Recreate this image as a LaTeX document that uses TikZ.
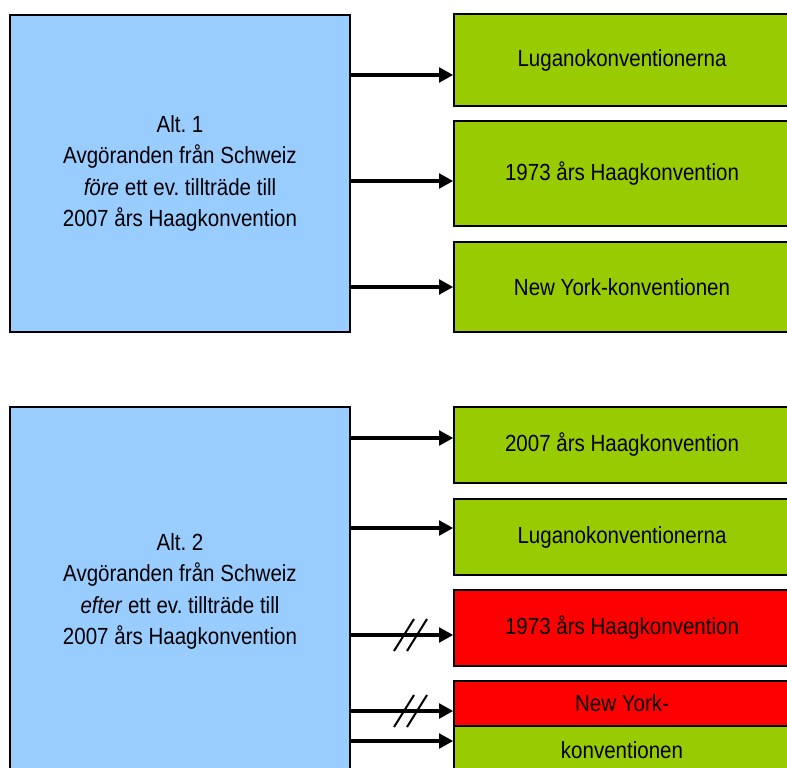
\documentclass[tikz,border=0pt]{standalone}
\usepackage{fontspec}
\setmainfont[FakeStretch=0.88]{Liberation Sans}
\usetikzlibrary{arrows.meta}
\frenchspacing
\definecolor{ljusbla}{HTML}{99CCFF}
\definecolor{gron}{HTML}{99CC00}
\definecolor{rod}{HTML}{FF0000}
\tikzset{
  ruta/.style={draw=black, line width=1.3pt, rectangle, align=center, inner sep=0pt,
    font={\fontsize{17.5}{23.5}\selectfont}},
  alt/.style={ruta, fill=ljusbla, minimum width=255pt},
  konv/.style={ruta, fill=gron, minimum width=252pt},
  stopp/.style={ruta, fill=rod, minimum width=252pt},
  pil/.style={line width=2.3pt, -{Triangle[length=10.5pt,width=11pt]}},
  brott/.style={line width=1.5pt}
}
\begin{document}
\begin{tikzpicture}[x=0.75pt, y=-0.75pt]
  \useasboundingbox (0,0) rectangle (787,767);
  \clip (0,0) rectangle (787,767);
  % Alt. 1
  \node[alt, minimum height=237.75pt] (alt1) at (180,173.5)
    {Alt. 1\\Avgöranden från Schweiz\\\textit{före} ett ev. tillträde till\\2007 års Haagkonvention};
  \node[konv, minimum height=69pt] (lug1) at (622,60) {Luganokonventionerna};
  \node[konv, minimum height=78.75pt] (haag1) at (622,173.5) {1973 års Haagkonvention};
  \node[konv, minimum height=67.5pt] (ny1) at (622,287) {New York-konventionen};
  % pilar, alt. 1
  \coordinate (p1) at (0,75);
  \coordinate (p2) at (0,181);
  \coordinate (p3) at (0,287);
  \draw[pil] (alt1.east |- p1) -- (lug1.west |- p1);
  \draw[pil] (alt1.east |- p2) -- (haag1.west |- p2);
  \draw[pil] (alt1.east |- p3) -- (ny1.west |- p3);
  % Alt. 2
  \node[alt, minimum height=276.75pt] (alt2) at (180,591.5)
    {Alt. 2\\Avgöranden från Schweiz\\\textit{efter} ett ev. tillträde till\\2007 års Haagkonvention};
  \node[konv, minimum height=57pt] (haag2007) at (622,445) {2007 års Haagkonvention};
  \node[konv, minimum height=57pt] (lug2) at (622,537) {Luganokonventionerna};
  \node[stopp, minimum height=57pt] (haag2) at (622,628) {1973 års Haagkonvention};
  \node[stopp, minimum height=33.75pt] (nyrod) at (622,703.5) {New York-};
  \node[konv, minimum height=36pt] (nygron) at (622,750) {konventionen};
  % pilar, alt. 2
  \coordinate (q1) at (0,438);
  \coordinate (q2) at (0,528);
  \coordinate (q3) at (0,635);
  \coordinate (q4) at (0,711);
  \coordinate (q5) at (0,741);
  \draw[pil] (alt2.east |- q1) -- (haag2007.west |- q1);
  \draw[pil] (alt2.east |- q2) -- (lug2.west |- q2);
  \draw[pil] (alt2.east |- q3) -- (haag2.west |- q3);
  \draw[pil] (alt2.east |- q4) -- (nyrod.west |- q4);
  \draw[pil] (alt2.east |- q5) -- (nygron.west |- q5);
  % brutna pilar
  \foreach \y in {635,711}
    \foreach \x in {404,417}
      \draw[brott] (\x,\y) ++(-10,16) -- ++(20,-32);
\end{tikzpicture}
\end{document}
